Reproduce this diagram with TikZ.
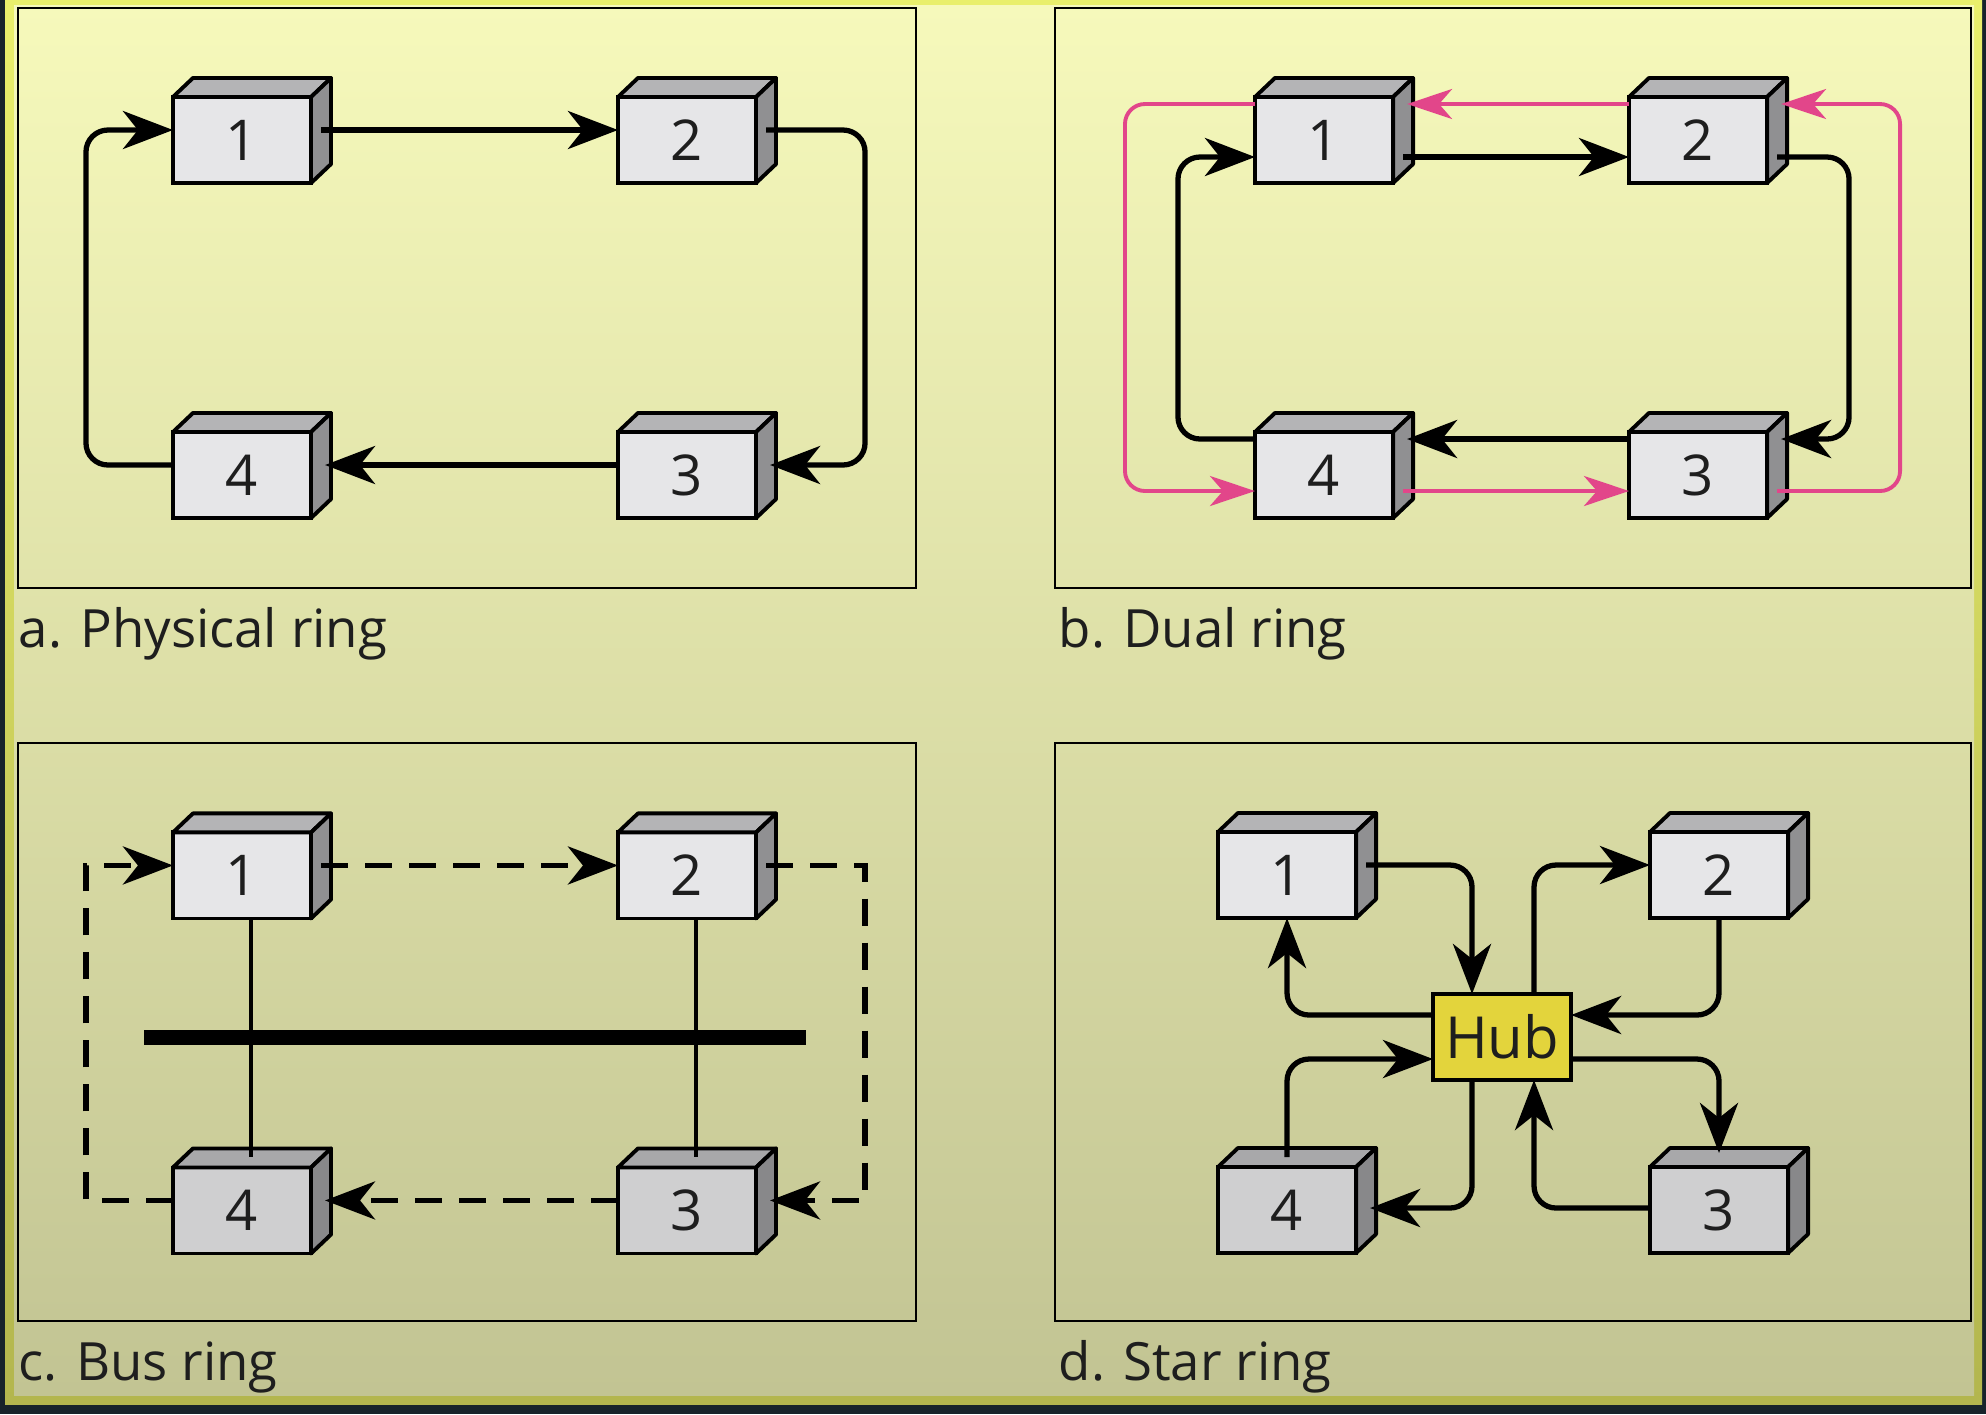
\documentclass[tikz,border=0pt]{standalone}
\usepackage{fontspec}
\setmainfont{Open Sans}
\usetikzlibrary{arrows.meta,calc,positioning}
\definecolor{rimdark}{HTML}{17232A}
\definecolor{rimtop}{HTML}{E9EF6C}
\definecolor{rimbot}{HTML}{B3B64E}
\definecolor{bgtop}{HTML}{F6F9BB}
\definecolor{bgmid}{HTML}{F2F5B1}
\definecolor{bgbot}{HTML}{C2C493}
\definecolor{ink}{HTML}{1E1E1E}
\definecolor{ringpink}{HTML}{E2468A}
\definecolor{hubyellow}{HTML}{E3D43C}
\definecolor{frontup}{HTML}{E6E6E8}
\definecolor{topup}{HTML}{B4B4B6}
\definecolor{sideup}{HTML}{909092}
\definecolor{frontlow}{HTML}{CFCFD0}
\definecolor{toplow}{HTML}{A8A8AA}
\definecolor{sidelow}{HTML}{88888A}

\tikzset{
  panelframe/.style={draw=black, line width=0.75pt},
  caption/.style={anchor=base west, inner sep=0pt, text=ink},
  stationbox/.style={rectangle, draw=black, line width=1.1pt, minimum width=1.38cm,
    minimum height=0.86cm, inner sep=0pt, outer sep=0pt, text=ink,
    font=\fontsize{16}{16}\selectfont},
  stationface/.style={draw=black, line width=1.1pt, line join=round},
  hubbox/.style={stationbox, fill=hubyellow, font=\fontsize{16.5}{18}\selectfont},
  ringlink/.style={->, line width=1.5pt, rounded corners=0.22cm},
  duallink/.style={ringpink, line width=1.1pt, rounded corners=0.2cm,
    -{Stealth[length=0.45cm, width=0.3cm, inset=0.13cm]}},
  buslink/.style={ringlink, sharp corners, dash pattern=on 0.27cm off 0.17cm},
  tapline/.style={line width=1.2pt},
  busline/.style={line width=0.15cm},
}

% station: front face as a node, top and side faces drawn behind it
\newcommand{\station}[4][up]{%
  \node[stationbox, fill=front#1] (#2) at (#3) {#4};
  \filldraw[stationface, fill=top#1] (#2.north west) -- ++(20,-19)
    -- ([shift={(20,-19)}]#2.north east) -- (#2.north east) -- cycle;
  \filldraw[stationface, fill=side#1] (#2.north east) -- ++(20,-19)
    -- ([shift={(20,-19)}]#2.south east) -- (#2.south east) -- cycle;
}

\begin{document}
\begin{tikzpicture}[x=0.01cm, y=-0.01cm, >={Stealth[length=0.5cm, width=0.38cm, inset=0.15cm]},
    font=\fontsize{15}{16}\selectfont]
  \useasboundingbox (0,0) rectangle (1986,1414);
  % backdrop
  \fill[rimdark] (0,0) rectangle (1986,1414);
  \shade[top color=rimtop, bottom color=rimbot] (5,0) rectangle (1982,1404);
  \shade[top color=bgtop, middle color=bgmid, bottom color=bgbot] (14,5) rectangle (1974,1395);
  % frames and captions
  \draw[panelframe] (18,8) rectangle (916,588);
  \draw[panelframe] (1055,8) rectangle (1971,588);
  \draw[panelframe] (18,743) rectangle (916,1321);
  \draw[panelframe] (1055,743) rectangle (1971,1321);
  \node[caption] (capa) at (18,647) {a. Physical ring};
  \node[caption] (capb) at (1058,647) {b. Dual ring};
  \node[caption] (capc) at (18,1380) {c. Bus ring};
  \node[caption] (capd) at (1058,1380) {d. Star ring};

  % a. physical ring
  \station{a1}{242,140}{1} \station{a2}{687,140}{2}
  \station{a3}{687,475}{3} \station{a4}{242,475}{4}
  \draw[ringlink] ([shift={(10,-10)}]a1.east) -- ([shift={(0,-10)}]a2.west);
  \draw[ringlink] ([shift={(10,-10)}]a2.east) -- ++(99,0) |- ([shift={(14,-10)}]a3.east);
  \draw[ringlink] ([shift={(0,-10)}]a3.west) -- ([shift={(14,-10)}]a4.east);
  \draw[ringlink] ([shift={(0,-10)}]a4.west) -- ++(-87,0) |- ([shift={(0,-10)}]a1.west);

  % b. dual ring
  \station{b1}{1324,140}{1} \station{b2}{1698,140}{2}
  \station{b3}{1698,475}{3} \station{b4}{1324,475}{4}
  \draw[ringlink] ([shift={(10,17)}]b1.east) -- ([shift={(0,17)}]b2.west);
  \draw[ringlink] ([shift={(10,17)}]b2.east) -- ++(72,0) |- ([shift={(14,-36)}]b3.east);
  \draw[ringlink] ([shift={(0,-36)}]b3.west) -- ([shift={(14,-36)}]b4.east);
  \draw[ringlink] ([shift={(0,-36)}]b4.west) -- ++(-77,0) |- ([shift={(0,17)}]b1.west);
  \draw[duallink] ([shift={(0,-36)}]b2.west) -- ([shift={(14,-36)}]b1.east);
  \draw[duallink] ([shift={(10,16)}]b3.east) -- ++(123,0) |- ([shift={(14,-36)}]b2.east);
  \draw[duallink] ([shift={(10,16)}]b4.east) -- ([shift={(0,16)}]b3.west);
  \draw[duallink] ([shift={(0,-36)}]b1.west) -- ++(-130,0) |- ([shift={(0,16)}]b4.west);

  % c. bus ring
  \begin{scope}[yshift=-7.35cm]
    \coordinate (busL) at (144,302); \coordinate (busR) at (806,302);
    \draw[busline] (busL) -- (busR);
    \station{c1}{242,140}{1} \station{c2}{687,140}{2}
    \station[low]{c3}{687,475}{3} \station[low]{c4}{242,475}{4}
    \draw[tapline] ([shift={(9,0)}]c1.south) -- ([shift={(9,-10)}]c4.north);
    \draw[tapline] ([shift={(9,0)}]c2.south) -- ([shift={(9,-10)}]c3.north);
    \draw[buslink] ([shift={(10,-10)}]c1.east) -- ([shift={(0,-10)}]c2.west);
    \draw[buslink] ([shift={(10,-10)}]c2.east) -- ++(99,0) |- ([shift={(14,-10)}]c3.east);
    \draw[buslink] ([shift={(0,-10)}]c3.west) -- ([shift={(14,-10)}]c4.east);
    \draw[buslink] ([shift={(0,-10)}]c4.west) -- ++(-87,0) |- ([shift={(0,-10)}]c1.west);
  \end{scope}

  % d. star ring
  \station{d1}{1287,875}{1} \station{d2}{1719,875}{2}
  \station[low]{d3}{1719,1210}{3} \station[low]{d4}{1287,1210}{4}
  \node[hubbox] (hub) at (1502,1037) {Hub};
  \draw[ringlink] ([shift={(10,-10)}]d1.east) -| ([shift={(-30,0)}]hub.north);
  \draw[ringlink] ([shift={(0,-22)}]hub.west) -| (d1.south);
  \draw[ringlink] ([shift={(32,0)}]hub.north) |- ([shift={(0,-10)}]d2.west);
  \draw[ringlink] (d2.south) |- ([shift={(0,-22)}]hub.east);
  \draw[ringlink] ([shift={(0,22)}]hub.east) -| ([shift={(0,-14)}]d3.north);
  \draw[ringlink] ([shift={(0,-2)}]d3.west) -| ([shift={(32,0)}]hub.south);
  \draw[ringlink] ([shift={(0,-10)}]d4.north) |- ([shift={(0,22)}]hub.west);
  \draw[ringlink] ([shift={(-30,0)}]hub.south) |- ([shift={(14,-2)}]d4.east);
\end{tikzpicture}
\end{document}
